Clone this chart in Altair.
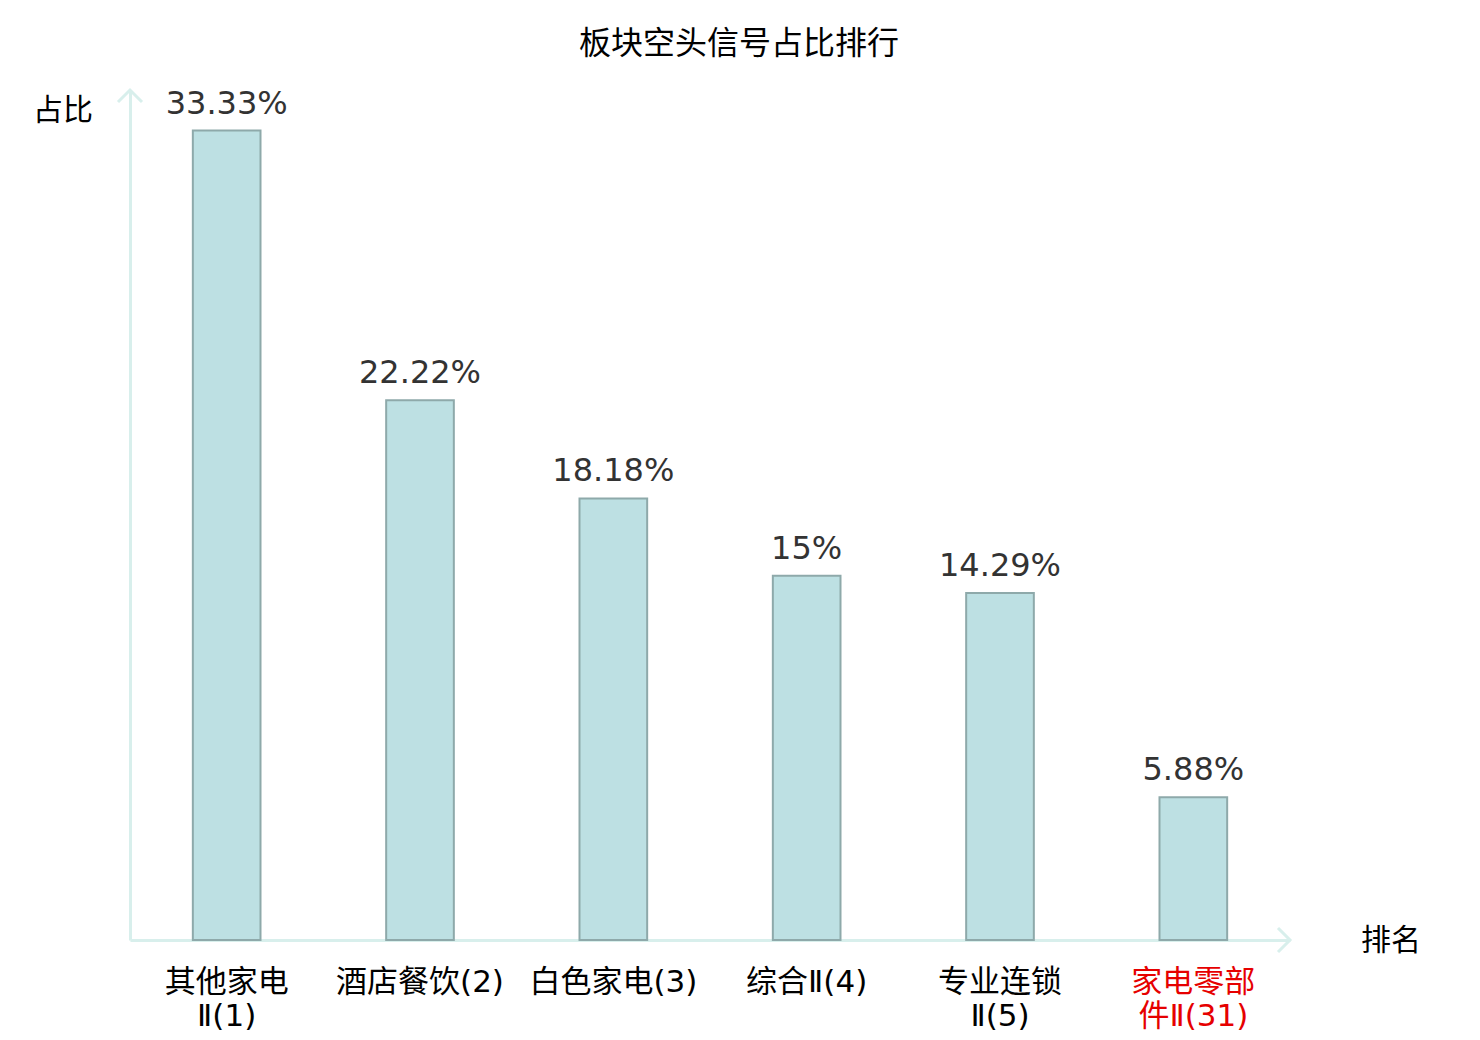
import altair as alt
import pandas as pd

categories = ["其他家电\nⅡ(1)", "酒店餐饮(2)", "白色家电(3)", "综合Ⅱ(4)", "专业连锁\nⅡ(5)", "家电零部\n件Ⅱ(31)"]
values = [33.33, 22.22, 18.18, 15, 14.29, 5.88]
value_labels = ["33.33%", "22.22%", "18.18%", "15%", "14.29%", "5.88%"]

df = pd.DataFrame({"cat": categories, "val": values, "lab": value_labels})

AXIS_COLOR = "#d8efec"
FONT = "DejaVu Sans, Noto Sans CJK SC"
LFONT = "Noto Sans CJK SC"

xenc = alt.X("cat:N", sort=categories,
             scale=alt.Scale(paddingInner=0.65, paddingOuter=0.325),
             axis=alt.Axis(title=None, labelAngle=0, ticks=False, domain=True,
                           domainColor=AXIS_COLOR, domainWidth=3,
                           labelFontSize=31, labelFont=FONT,
                           labelPadding=27, labelLineHeight=34,
                           labelExpr="split(datum.label, '\\n')",
                           labelColor={"expr": "datum.label == '家电零部\\n件Ⅱ(31)' ? '#e60000' : '#000000'"},
                           grid=False))
yenc = alt.Y("val:Q", scale=alt.Scale(domain=[0, 35]),
             axis=alt.Axis(title=None, labels=False, ticks=False, grid=False,
                           domain=True, domainColor=AXIS_COLOR, domainWidth=3))

bars = alt.Chart(df).mark_bar(color="#bde0e3", stroke="#8ea9aa", strokeWidth=2).encode(
    x=xenc, y=yenc)

texts = alt.Chart(df).mark_text(fontSize=32, font=FONT, color="#333333",
                                baseline="alphabetic", dy=-17).encode(
    x=alt.X("cat:N", sort=categories), y="val:Q", text="lab:N")

one = alt.Data(values=[{"a": 1}])
up_arrow = alt.Chart(one).mark_point(shape="M-1,1L0,0L1,1", filled=False, size=576,
                                     stroke=AXIS_COLOR, strokeWidth=3, opacity=1).encode(
    x=alt.value(0), y=alt.value(0))
right_arrow = alt.Chart(one).mark_point(shape="M-1,-1L0,0L-1,1", filled=False, size=576,
                                        stroke=AXIS_COLOR, strokeWidth=3, opacity=1).encode(
    x=alt.value(1160), y=alt.value(850))

ytitle = alt.Chart(one).mark_text(text="占比", fontSize=30, font=LFONT, color="#000000",
                                  align="center", baseline="middle").encode(
    x=alt.value(-67), y=alt.value(21))
xtitle = alt.Chart(one).mark_text(text="排名", fontSize=30, font=LFONT, color="#000000",
                                  align="center", baseline="middle").encode(
    x=alt.value(1261), y=alt.value(851))

chart = alt.layer(bars, texts, up_arrow, right_arrow, ytitle, xtitle).properties(
    width=1160, height=850,
    title=alt.TitleParams("板块空头信号占比排行", fontSize=32, font=LFONT, fontWeight="normal",
                          color="#000000", anchor="middle", offset=23, dx=29),
    autosize=alt.AutoSizeParams(type="none"),
    padding={"left": 122, "top": 82, "right": 180, "bottom": 100},
).configure_view(stroke=None)

chart.save("out.html", embed_options={"renderer": "svg", "actions": False})
